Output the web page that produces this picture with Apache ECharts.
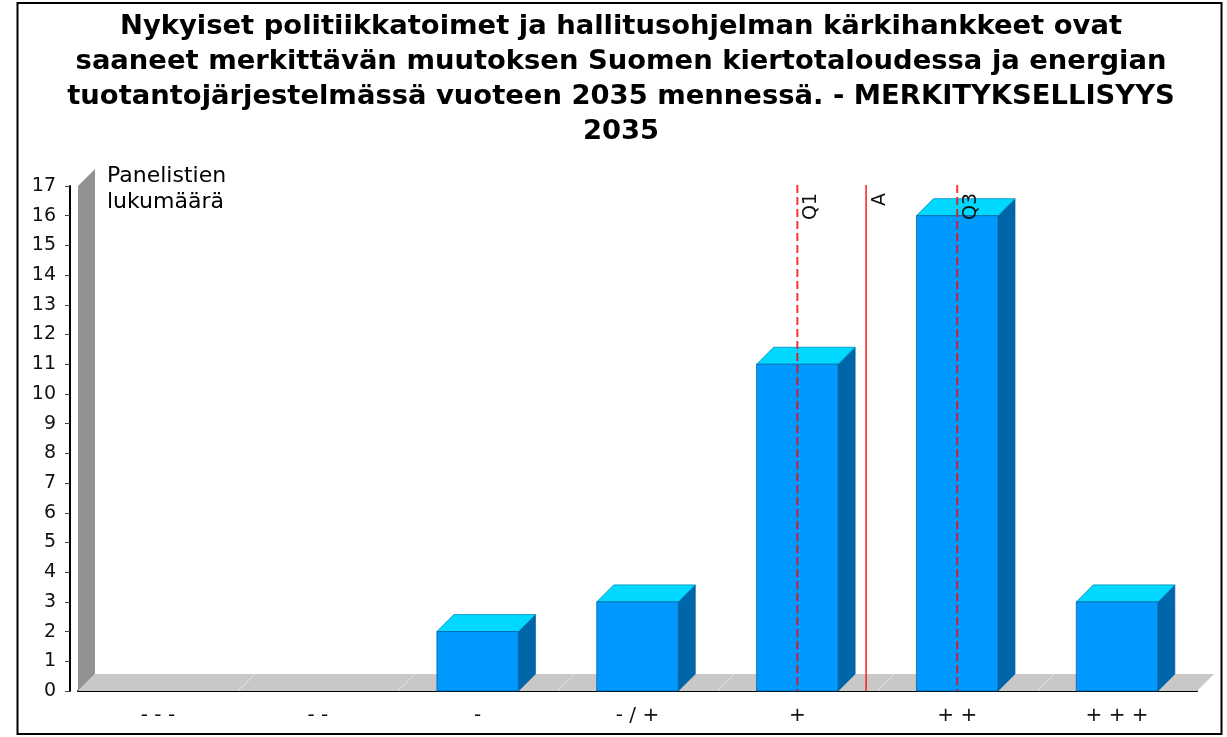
<!DOCTYPE html>
<html>
<head>
<meta charset="utf-8">
<script src="https://cdn.jsdelivr.net/npm/echarts@6/dist/echarts.min.js"></script>
<style>
  html, body { margin: 0; padding: 0; background: #fff; }
  #chart { width: 1227px; height: 737px; }
</style>
</head>
<body>
<div id="chart"></div>
<script>
const categories = ["- - -", "- -", "-", "- / +", "+", "+ +", "+ + +"];
const counts = [0, 0, 2, 3, 11, 16, 3];
const yTicks = { min: 0, max: 17, interval: 1 };
// statistic markers, positions are in category index units
const markerNames = ["Q1", "A", "Q3"];
const markerPos = [4, 4.43, 5];
const markerDashed = [true, false, true];

const DEPTH = 17;
const FONT = "DejaVu Sans";

// gray back wall + floor, drawn from the grid rect
function renderFrame(params, api) {
  const cs = params.coordSys;
  const l = cs.x, t = cs.y, r = cs.x + cs.width, b = cs.y + cs.height;
  const children = [
    { type: "polygon", shape: { points: [[l, b], [l, t], [l + DEPTH, t - DEPTH], [l + DEPTH, b - DEPTH]] },
      style: { fill: "#929292" } },
    { type: "polygon", shape: { points: [[l, b], [l + DEPTH, b - DEPTH], [r + DEPTH, b - DEPTH], [r, b]] },
      style: { fill: "#c8c8c8" } }
  ];
  const step = cs.width / categories.length;
  for (let i = 1; i < categories.length; i++) {
    const x = l + step * i;
    children.push({ type: "line", shape: { x1: x, y1: b, x2: x + DEPTH, y2: b - DEPTH },
      style: { stroke: "#e6e6e6", lineWidth: 1 } });
  }
  return { type: "group", children };
}

function renderBar(params, api) {
  const v = api.value(1);
  if (!v) return null;
  const top = api.coord([api.value(0), v]);
  const base = api.coord([api.value(0), 0]);
  const w = api.size([1, 0])[0] * 0.51;
  const x0 = top[0] - w / 2, x1 = top[0] + w / 2;
  const yT = top[1], yB = base[1];
  const edge = "rgba(0,90,150,0.7)";
  return {
    type: "group",
    children: [
      { type: "polygon", shape: { points: [[x1, yT], [x1 + DEPTH, yT - DEPTH], [x1 + DEPTH, yB - DEPTH], [x1, yB]] },
        style: { fill: "#0066aa", stroke: edge, lineWidth: 1 } },
      { type: "polygon", shape: { points: [[x0, yT], [x0 + DEPTH, yT - DEPTH], [x1 + DEPTH, yT - DEPTH], [x1, yT]] },
        style: { fill: "#00d8ff", stroke: "rgba(0,140,190,0.8)", lineWidth: 1 } },
      { type: "rect", shape: { x: x0, y: yT, width: w, height: yB - yT },
        style: { fill: "#0099ff", stroke: edge, lineWidth: 1 } }
    ]
  };
}

function renderMarker(params, api) {
  const i = params.dataIndex;
  const cs = params.coordSys;
  const x = api.coord([api.value(0), 0])[0];
  const dashed = markerDashed[i];
  return {
    type: "group",
    children: [
      { type: "line", shape: { x1: x, y1: cs.y - 1, x2: x, y2: cs.y + cs.height },
        style: { stroke: dashed ? "rgba(255,0,0,0.8)" : "#ff1a1a", lineWidth: dashed ? 2 : 1.5,
                 lineDash: dashed ? [8, 4] : null } },
      { type: "text", x: x + 4, y: cs.y + 7, rotation: Math.PI / 2,
        style: { text: markerNames[i], fill: "#111", font: "19px " + FONT,
                 align: "right", verticalAlign: "top" } }
    ]
  };
}

const chart = echarts.init(document.getElementById("chart"));
chart.setOption({
  animation: false,
  backgroundColor: "#fff",
  title: {
    text: "Nykyiset politiikkatoimet ja hallitusohjelman kärkihankkeet ovat\nsaaneet merkittävän muutoksen Suomen kiertotaloudessa ja energian\ntuotantojärjestelmässä vuoteen 2035 mennessä. - MERKITYKSELLISYYS\n2035",
    left: 621,
    top: 9,
    padding: 0,
    textAlign: "center",
    textStyle: { fontFamily: FONT, fontWeight: "bold", fontSize: 27.4, lineHeight: 35, color: "#000" }
  },
  grid: { left: 78, right: 30, top: 186, bottom: 46 },
  xAxis: [
    {
      type: "category",
      data: categories,
      axisLine: { lineStyle: { color: "#000", width: 2 } },
      axisTick: { length: 6, lineStyle: { color: "#c8c8c8" } },
      axisLabel: { color: "#111", fontFamily: FONT, fontSize: 20, margin: 15 }
    },
    { type: "value", min: -0.5, max: categories.length - 0.5, show: false }
  ],
  yAxis: {
    type: "value",
    min: yTicks.min,
    max: yTicks.max,
    interval: yTicks.interval,
    offset: 8,
    splitLine: { show: false },
    axisLine: { show: true, onZero: false, lineStyle: { color: "#000", width: 2 } },
    axisTick: { show: true, length: 5, lineStyle: { color: "#444" } },
    axisLabel: { color: "#111", fontFamily: FONT, fontSize: 19, margin: 14 }
  },
  graphic: [
    { type: "rect", shape: { x: 17.5, y: 3, width: 1204, height: 731 },
      style: { fill: null, stroke: "#000", lineWidth: 2 }, z: 100 },
    { type: "text", x: 107, y: 163,
      style: { text: "Panelistien\nlukumäärä", font: "22px " + FONT, fill: "#000", lineHeight: 26 } }
  ],
  series: [
    { type: "custom", name: "frame", data: [0], renderItem: renderFrame, clip: false, silent: true, z: 1 },
    { type: "custom", name: "Panelistien lukumäärä", data: counts.map((v, i) => [i, v]),
      renderItem: renderBar, clip: false, z: 2 },
    { type: "custom", name: "markers", xAxisIndex: 1, data: markerPos.map((p, i) => [p, i]),
      renderItem: renderMarker, clip: false, silent: true, z: 3 }
  ]
});
</script>
</body>
</html>
